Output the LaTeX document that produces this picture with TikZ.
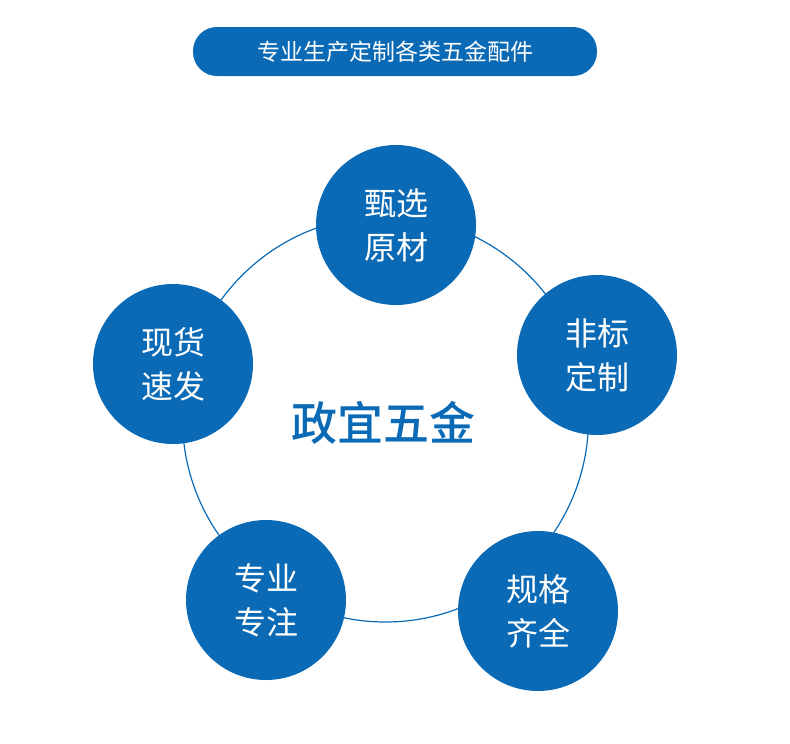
\documentclass[tikz,border=0pt]{standalone}
\usepackage{fontspec}
\setmainfont{Noto Sans CJK SC}
\newfontfamily\cjkb{Noto Sans CJK SC Medium}
\definecolor{zyblue}{HTML}{0A6AB6}
\begin{document}
\begin{tikzpicture}[x=1pt,y=-1pt,
  petal/.style={circle,fill=zyblue,minimum size=160pt,inner sep=0pt,text=white,align=center,font=\fontsize{32}{44}\selectfont}]
\useasboundingbox (0,0) rectangle (790,744);
\node[draw=zyblue,line width=1.2pt,circle,minimum size=406pt,inner sep=0pt] (ring) at (385.5,419) {};
\node[petal] (a) at (396,225) {甄选\\原材};
\node[petal] (b) at (597,355) {非标\\定制};
\node[petal] (c) at (538,611) {规格\\齐全};
\node[petal] (d) at (266,600) {专业\\专注};
\node[petal] (e) at (173,364) {现货\\速发};
\node[text=zyblue,font=\cjkb\fontsize{46}{50}\selectfont] (mid) at (383,423) {政宜五金};
\node[fill=zyblue,rounded corners=24pt,minimum width=404pt,minimum height=49pt,text=white,font=\fontsize{23}{26}\selectfont] (title) at (395,51.5) {专业生产定制各类五金配件};
\end{tikzpicture}
\end{document}
